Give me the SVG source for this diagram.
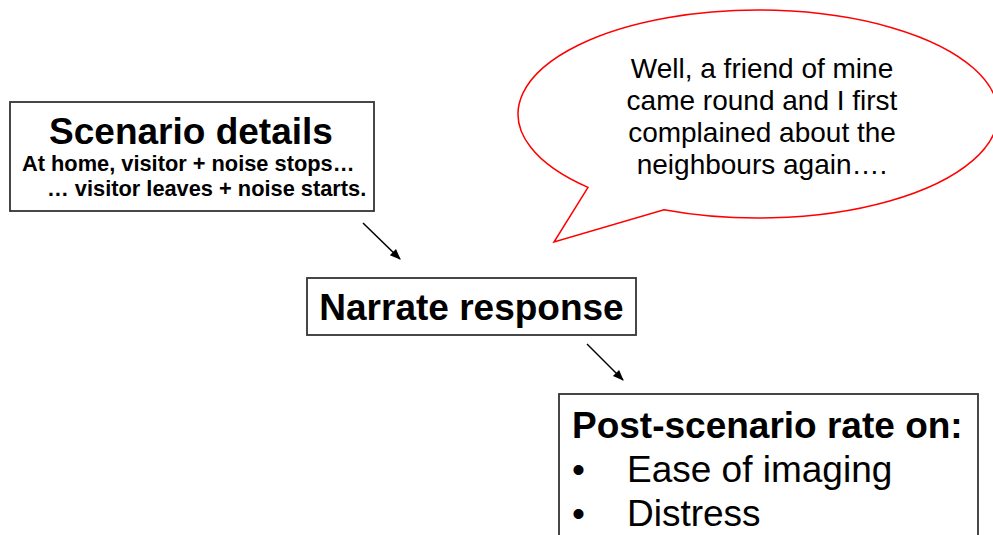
<svg xmlns="http://www.w3.org/2000/svg" width="993" height="535" viewBox="0 0 993 535">
<style>
.box{fill:#fff;stroke:#333;stroke-width:1.8}
.b{font-family:"Liberation Sans",Arial,sans-serif;font-weight:bold;fill:#000}
.r{font-family:"Liberation Sans",Arial,sans-serif;fill:#000}
.conn{stroke:#000;stroke-width:1.5;fill:none;marker-end:url(#ah)}
</style>
<defs>
<marker id="ah" viewBox="0 0 10 10" refX="9" refY="5" markerWidth="13" markerHeight="11" markerUnits="userSpaceOnUse" orient="auto">
<path d="M0,1 L10,5 L0,9 Z" fill="#000"/>
</marker>
</defs>
<rect width="993" height="535" fill="#fff"/>
<g id="bubble">
<path d="M588,187.4 A240 104 0 1 1 664,209.7 L554,242 Z" fill="#fff" stroke="#ff0000" stroke-width="1.5" stroke-linejoin="miter"/>
<g class="r" font-size="28" text-anchor="middle">
<text x="762" y="78">Well, a friend of mine</text>
<text x="762" y="110">came round and I first</text>
<text x="762" y="142">complained about the</text>
<text x="762" y="174">neighbours again….</text>
</g>
</g>
<g id="scenario">
<rect class="box" x="10" y="102" width="364" height="109"/>
<text class="b" x="191" y="144" font-size="37" text-anchor="middle">Scenario details</text>
<text class="b" x="22" y="171" font-size="21.8">At home, visitor + noise stops…</text>
<text class="b" x="47" y="196" font-size="21.8">… visitor leaves + noise starts.</text>
</g>
<g id="narrate">
<rect class="box" x="307" y="278" width="329" height="57"/>
<text class="b" x="471.5" y="320" font-size="37" text-anchor="middle">Narrate response</text>
</g>
<g id="post">
<rect class="box" x="559" y="394" width="419" height="160"/>
<text class="b" x="572" y="438" font-size="37">Post-scenario rate on:</text>
<text class="r" x="572" y="482" font-size="37">•</text>
<text class="r" x="627" y="482" font-size="37">Ease of imaging</text>
<text class="r" x="572" y="526" font-size="37">•</text>
<text class="r" x="627" y="526" font-size="37">Distress</text>
</g>
<g id="connectors">
<line class="conn" x1="363" y1="223" x2="400" y2="259"/>
<line class="conn" x1="587" y1="344" x2="623" y2="380"/>
</g>
</svg>
